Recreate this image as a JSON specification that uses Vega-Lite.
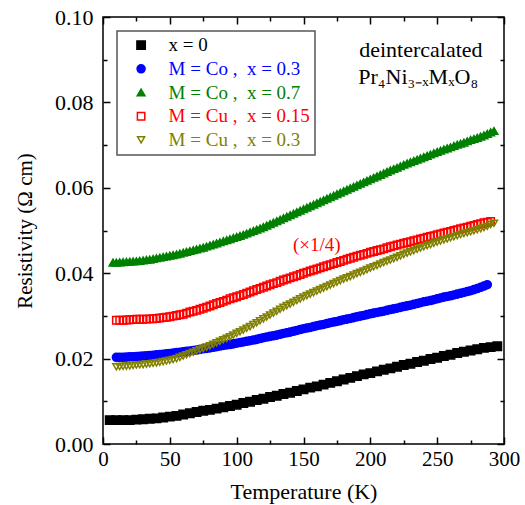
{
  "$schema": "https://vega.github.io/schema/vega-lite/v6.json",
  "width": 401,
  "height": 427,
  "autosize": {"type": "none"},
  "padding": {"left": 103, "top": 17, "right": 21, "bottom": 61},
  "background": "white",
  "config": {
    "font": "Liberation Serif",
    "view": {"stroke": "#000000", "strokeWidth": 1.5},
    "axis": {"grid": false, "domain": false, "tickColor": "#000000", "tickWidth": 1.5, "labelColor": "#000000", "labelFont": "Liberation Serif", "titleFont": "Liberation Serif", "titleFontWeight": "normal", "titleColor": "#000000", "labelFlush": false, "labelOverlap": false},
    "legend": {"strokeWidth": 1.5}
  },
  "datasets": {
    "pts": [
      {"s":"a","T":5,"R":0.0056},{"s":"a","T":10,"R":0.0056},{"s":"a","T":15,"R":0.0056},{"s":"a","T":20,"R":0.0056},{"s":"a","T":25,"R":0.0057},{"s":"a","T":30,"R":0.0058},{"s":"a","T":35,"R":0.0059},{"s":"a","T":40,"R":0.0060},{"s":"a","T":45,"R":0.0062},{"s":"a","T":50,"R":0.0064},{"s":"a","T":55,"R":0.0066},{"s":"a","T":60,"R":0.0069},{"s":"a","T":65,"R":0.0072},{"s":"a","T":70,"R":0.0075},{"s":"a","T":75,"R":0.0078},{"s":"a","T":80,"R":0.0080},{"s":"a","T":85,"R":0.0083},{"s":"a","T":90,"R":0.0086},{"s":"a","T":95,"R":0.0089},{"s":"a","T":100,"R":0.0092},{"s":"a","T":105,"R":0.0096},{"s":"a","T":110,"R":0.0099},{"s":"a","T":115,"R":0.0103},{"s":"a","T":120,"R":0.0106},{"s":"a","T":125,"R":0.0110},{"s":"a","T":130,"R":0.0113},{"s":"a","T":135,"R":0.0117},{"s":"a","T":140,"R":0.0120},{"s":"a","T":145,"R":0.0124},{"s":"a","T":150,"R":0.0128},{"s":"a","T":155,"R":0.0132},{"s":"a","T":160,"R":0.0135},{"s":"a","T":165,"R":0.0139},{"s":"a","T":170,"R":0.0143},{"s":"a","T":175,"R":0.0147},{"s":"a","T":180,"R":0.0151},{"s":"a","T":185,"R":0.0155},{"s":"a","T":190,"R":0.0159},{"s":"a","T":195,"R":0.0163},{"s":"a","T":200,"R":0.0166},{"s":"a","T":205,"R":0.0170},{"s":"a","T":210,"R":0.0174},{"s":"a","T":215,"R":0.0177},{"s":"a","T":220,"R":0.0181},{"s":"a","T":225,"R":0.0185},{"s":"a","T":230,"R":0.0188},{"s":"a","T":235,"R":0.0192},{"s":"a","T":240,"R":0.0195},{"s":"a","T":245,"R":0.0199},{"s":"a","T":250,"R":0.0202},{"s":"a","T":255,"R":0.0206},{"s":"a","T":260,"R":0.0209},{"s":"a","T":265,"R":0.0213},{"s":"a","T":270,"R":0.0216},{"s":"a","T":275,"R":0.0219},{"s":"a","T":280,"R":0.0222},{"s":"a","T":285,"R":0.0225},{"s":"a","T":290,"R":0.0227},{"s":"a","T":295,"R":0.0229},
      {"s":"b","T":10,"R":0.0203},{"s":"b","T":15,"R":0.0203},{"s":"b","T":20,"R":0.0204},{"s":"b","T":25,"R":0.0205},{"s":"b","T":30,"R":0.0206},{"s":"b","T":35,"R":0.0207},{"s":"b","T":40,"R":0.0209},{"s":"b","T":45,"R":0.0210},{"s":"b","T":50,"R":0.0212},{"s":"b","T":55,"R":0.0214},{"s":"b","T":60,"R":0.0216},{"s":"b","T":65,"R":0.0218},{"s":"b","T":70,"R":0.0220},{"s":"b","T":75,"R":0.0223},{"s":"b","T":80,"R":0.0225},{"s":"b","T":85,"R":0.0228},{"s":"b","T":90,"R":0.0231},{"s":"b","T":95,"R":0.0233},{"s":"b","T":100,"R":0.0236},{"s":"b","T":105,"R":0.0239},{"s":"b","T":110,"R":0.0242},{"s":"b","T":115,"R":0.0245},{"s":"b","T":120,"R":0.0249},{"s":"b","T":125,"R":0.0252},{"s":"b","T":130,"R":0.0255},{"s":"b","T":135,"R":0.0259},{"s":"b","T":140,"R":0.0262},{"s":"b","T":145,"R":0.0266},{"s":"b","T":150,"R":0.0270},{"s":"b","T":155,"R":0.0273},{"s":"b","T":160,"R":0.0277},{"s":"b","T":165,"R":0.0280},{"s":"b","T":170,"R":0.0284},{"s":"b","T":175,"R":0.0287},{"s":"b","T":180,"R":0.0291},{"s":"b","T":185,"R":0.0294},{"s":"b","T":190,"R":0.0298},{"s":"b","T":195,"R":0.0301},{"s":"b","T":200,"R":0.0305},{"s":"b","T":205,"R":0.0308},{"s":"b","T":210,"R":0.0311},{"s":"b","T":215,"R":0.0315},{"s":"b","T":220,"R":0.0318},{"s":"b","T":225,"R":0.0322},{"s":"b","T":230,"R":0.0325},{"s":"b","T":235,"R":0.0329},{"s":"b","T":240,"R":0.0333},{"s":"b","T":245,"R":0.0336},{"s":"b","T":250,"R":0.0340},{"s":"b","T":255,"R":0.0344},{"s":"b","T":260,"R":0.0347},{"s":"b","T":265,"R":0.0351},{"s":"b","T":270,"R":0.0355},{"s":"b","T":275,"R":0.0359},{"s":"b","T":280,"R":0.0364},{"s":"b","T":285,"R":0.0370},
      {"s":"b","T":12.5,"R":0.0203},{"s":"b","T":17.5,"R":0.02035},{"s":"b","T":22.5,"R":0.02045},{"s":"b","T":27.5,"R":0.02055},{"s":"b","T":32.5,"R":0.02065},{"s":"b","T":37.5,"R":0.0208},{"s":"b","T":42.5,"R":0.02095},{"s":"b","T":47.5,"R":0.0211},{"s":"b","T":52.5,"R":0.0213},{"s":"b","T":57.5,"R":0.0215},{"s":"b","T":62.5,"R":0.0217},{"s":"b","T":67.5,"R":0.0219},{"s":"b","T":72.5,"R":0.02215},{"s":"b","T":77.5,"R":0.0224},{"s":"b","T":82.5,"R":0.02265},{"s":"b","T":87.5,"R":0.02295},{"s":"b","T":92.5,"R":0.0232},{"s":"b","T":97.5,"R":0.02345},{"s":"b","T":102.5,"R":0.02375},{"s":"b","T":107.5,"R":0.02405},{"s":"b","T":112.5,"R":0.02435},{"s":"b","T":117.5,"R":0.0247},{"s":"b","T":122.5,"R":0.02505},{"s":"b","T":127.5,"R":0.02535},{"s":"b","T":132.5,"R":0.0257},{"s":"b","T":137.5,"R":0.02605},{"s":"b","T":142.5,"R":0.0264},{"s":"b","T":147.5,"R":0.0268},{"s":"b","T":152.5,"R":0.02715},{"s":"b","T":157.5,"R":0.0275},{"s":"b","T":162.5,"R":0.02785},{"s":"b","T":167.5,"R":0.0282},{"s":"b","T":172.5,"R":0.02855},{"s":"b","T":177.5,"R":0.0289},{"s":"b","T":182.5,"R":0.02925},{"s":"b","T":187.5,"R":0.0296},{"s":"b","T":192.5,"R":0.02995},{"s":"b","T":197.5,"R":0.0303},{"s":"b","T":202.5,"R":0.03065},{"s":"b","T":207.5,"R":0.03095},{"s":"b","T":212.5,"R":0.0313},{"s":"b","T":217.5,"R":0.03165},{"s":"b","T":222.5,"R":0.032},{"s":"b","T":227.5,"R":0.03235},{"s":"b","T":232.5,"R":0.0327},{"s":"b","T":237.5,"R":0.0331},{"s":"b","T":242.5,"R":0.03345},{"s":"b","T":247.5,"R":0.0338},{"s":"b","T":252.5,"R":0.0342},{"s":"b","T":257.5,"R":0.03455},{"s":"b","T":262.5,"R":0.0349},{"s":"b","T":267.5,"R":0.0353},{"s":"b","T":272.5,"R":0.0357},{"s":"b","T":277.5,"R":0.03615},{"s":"b","T":282.5,"R":0.0367},{"s":"b","T":287.5,"R":0.0373},
      {"s":"c","T":10,"R":0.0425},{"s":"c","T":15,"R":0.0426},{"s":"c","T":20,"R":0.0427},{"s":"c","T":25,"R":0.0428},{"s":"c","T":30,"R":0.0430},{"s":"c","T":35,"R":0.0432},{"s":"c","T":40,"R":0.0435},{"s":"c","T":45,"R":0.0438},{"s":"c","T":50,"R":0.0441},{"s":"c","T":55,"R":0.0444},{"s":"c","T":60,"R":0.0448},{"s":"c","T":65,"R":0.0452},{"s":"c","T":70,"R":0.0456},{"s":"c","T":75,"R":0.0460},{"s":"c","T":80,"R":0.0465},{"s":"c","T":85,"R":0.0470},{"s":"c","T":90,"R":0.0475},{"s":"c","T":95,"R":0.0480},{"s":"c","T":100,"R":0.0485},{"s":"c","T":105,"R":0.0490},{"s":"c","T":110,"R":0.0496},{"s":"c","T":115,"R":0.0502},{"s":"c","T":120,"R":0.0508},{"s":"c","T":125,"R":0.0515},{"s":"c","T":130,"R":0.0522},{"s":"c","T":135,"R":0.0529},{"s":"c","T":140,"R":0.0536},{"s":"c","T":145,"R":0.0543},{"s":"c","T":150,"R":0.0550},{"s":"c","T":155,"R":0.0557},{"s":"c","T":160,"R":0.0564},{"s":"c","T":165,"R":0.0571},{"s":"c","T":170,"R":0.0578},{"s":"c","T":175,"R":0.0585},{"s":"c","T":180,"R":0.0592},{"s":"c","T":185,"R":0.0599},{"s":"c","T":190,"R":0.0606},{"s":"c","T":195,"R":0.0613},{"s":"c","T":200,"R":0.0620},{"s":"c","T":205,"R":0.0627},{"s":"c","T":210,"R":0.0634},{"s":"c","T":215,"R":0.0641},{"s":"c","T":220,"R":0.0647},{"s":"c","T":225,"R":0.0654},{"s":"c","T":230,"R":0.0660},{"s":"c","T":235,"R":0.0666},{"s":"c","T":240,"R":0.0672},{"s":"c","T":245,"R":0.0678},{"s":"c","T":250,"R":0.0684},{"s":"c","T":255,"R":0.0690},{"s":"c","T":260,"R":0.0695},{"s":"c","T":265,"R":0.0701},{"s":"c","T":270,"R":0.0706},{"s":"c","T":275,"R":0.0712},{"s":"c","T":280,"R":0.0717},{"s":"c","T":285,"R":0.0723},{"s":"c","T":290,"R":0.0730},
      {"s":"c","T":7.5,"R":0.0425},{"s":"c","T":12.5,"R":0.04255},{"s":"c","T":17.5,"R":0.04265},{"s":"c","T":22.5,"R":0.04275},{"s":"c","T":27.5,"R":0.0429},{"s":"c","T":32.5,"R":0.0431},{"s":"c","T":37.5,"R":0.04335},{"s":"c","T":42.5,"R":0.04365},{"s":"c","T":47.5,"R":0.04395},{"s":"c","T":52.5,"R":0.04425},{"s":"c","T":57.5,"R":0.0446},{"s":"c","T":62.5,"R":0.045},{"s":"c","T":67.5,"R":0.0454},{"s":"c","T":72.5,"R":0.0458},{"s":"c","T":77.5,"R":0.04625},{"s":"c","T":82.5,"R":0.04675},{"s":"c","T":87.5,"R":0.04725},{"s":"c","T":92.5,"R":0.04775},{"s":"c","T":97.5,"R":0.04825},{"s":"c","T":102.5,"R":0.04875},{"s":"c","T":107.5,"R":0.0493},{"s":"c","T":112.5,"R":0.0499},{"s":"c","T":117.5,"R":0.0505},{"s":"c","T":122.5,"R":0.05115},{"s":"c","T":127.5,"R":0.05185},{"s":"c","T":132.5,"R":0.05255},{"s":"c","T":137.5,"R":0.05325},{"s":"c","T":142.5,"R":0.05395},{"s":"c","T":147.5,"R":0.05465},{"s":"c","T":152.5,"R":0.05535},{"s":"c","T":157.5,"R":0.05605},{"s":"c","T":162.5,"R":0.05675},{"s":"c","T":167.5,"R":0.05745},{"s":"c","T":172.5,"R":0.05815},{"s":"c","T":177.5,"R":0.05885},{"s":"c","T":182.5,"R":0.05955},{"s":"c","T":187.5,"R":0.06025},{"s":"c","T":192.5,"R":0.06095},{"s":"c","T":197.5,"R":0.06165},{"s":"c","T":202.5,"R":0.06235},{"s":"c","T":207.5,"R":0.06305},{"s":"c","T":212.5,"R":0.06375},{"s":"c","T":217.5,"R":0.0644},{"s":"c","T":222.5,"R":0.06505},{"s":"c","T":227.5,"R":0.0657},{"s":"c","T":232.5,"R":0.0663},{"s":"c","T":237.5,"R":0.0669},{"s":"c","T":242.5,"R":0.0675},{"s":"c","T":247.5,"R":0.0681},{"s":"c","T":252.5,"R":0.0687},{"s":"c","T":257.5,"R":0.06925},{"s":"c","T":262.5,"R":0.0698},{"s":"c","T":267.5,"R":0.07035},{"s":"c","T":272.5,"R":0.0709},{"s":"c","T":277.5,"R":0.07145},{"s":"c","T":282.5,"R":0.072},{"s":"c","T":287.5,"R":0.07265},{"s":"c","T":292.5,"R":0.0733},
      {"s":"d","T":10,"R":0.0290},{"s":"d","T":15,"R":0.0290},{"s":"d","T":20,"R":0.0291},{"s":"d","T":25,"R":0.0292},{"s":"d","T":30,"R":0.0292},{"s":"d","T":35,"R":0.0293},{"s":"d","T":40,"R":0.0294},{"s":"d","T":45,"R":0.0296},{"s":"d","T":50,"R":0.0298},{"s":"d","T":55,"R":0.0301},{"s":"d","T":60,"R":0.0304},{"s":"d","T":65,"R":0.0309},{"s":"d","T":70,"R":0.0313},{"s":"d","T":75,"R":0.0318},{"s":"d","T":80,"R":0.0323},{"s":"d","T":85,"R":0.0329},{"s":"d","T":90,"R":0.0334},{"s":"d","T":95,"R":0.0340},{"s":"d","T":100,"R":0.0345},{"s":"d","T":105,"R":0.0350},{"s":"d","T":110,"R":0.0356},{"s":"d","T":115,"R":0.0362},{"s":"d","T":120,"R":0.0367},{"s":"d","T":125,"R":0.0373},{"s":"d","T":130,"R":0.0378},{"s":"d","T":135,"R":0.0384},{"s":"d","T":140,"R":0.0389},{"s":"d","T":145,"R":0.0394},{"s":"d","T":150,"R":0.0400},{"s":"d","T":155,"R":0.0405},{"s":"d","T":160,"R":0.0410},{"s":"d","T":165,"R":0.0415},{"s":"d","T":170,"R":0.0420},{"s":"d","T":175,"R":0.0425},{"s":"d","T":180,"R":0.0430},{"s":"d","T":185,"R":0.0435},{"s":"d","T":190,"R":0.0440},{"s":"d","T":195,"R":0.0444},{"s":"d","T":200,"R":0.0449},{"s":"d","T":205,"R":0.0453},{"s":"d","T":210,"R":0.0457},{"s":"d","T":215,"R":0.0462},{"s":"d","T":220,"R":0.0466},{"s":"d","T":225,"R":0.0470},{"s":"d","T":230,"R":0.0474},{"s":"d","T":235,"R":0.0478},{"s":"d","T":240,"R":0.0482},{"s":"d","T":245,"R":0.0486},{"s":"d","T":250,"R":0.0490},{"s":"d","T":255,"R":0.0494},{"s":"d","T":260,"R":0.0498},{"s":"d","T":265,"R":0.0502},{"s":"d","T":270,"R":0.0506},{"s":"d","T":275,"R":0.0510},{"s":"d","T":280,"R":0.0514},{"s":"d","T":285,"R":0.0518},{"s":"d","T":290,"R":0.0521},
      {"s":"d","T":12.5,"R":0.0290},{"s":"d","T":17.5,"R":0.02905},{"s":"d","T":22.5,"R":0.02915},{"s":"d","T":27.5,"R":0.0292},{"s":"d","T":32.5,"R":0.02925},{"s":"d","T":37.5,"R":0.02935},{"s":"d","T":42.5,"R":0.0295},{"s":"d","T":47.5,"R":0.0297},{"s":"d","T":52.5,"R":0.02995},{"s":"d","T":57.5,"R":0.03025},{"s":"d","T":62.5,"R":0.03065},{"s":"d","T":67.5,"R":0.0311},{"s":"d","T":72.5,"R":0.03155},{"s":"d","T":77.5,"R":0.03205},{"s":"d","T":82.5,"R":0.0326},{"s":"d","T":87.5,"R":0.03315},{"s":"d","T":92.5,"R":0.0337},{"s":"d","T":97.5,"R":0.03425},{"s":"d","T":102.5,"R":0.03475},{"s":"d","T":107.5,"R":0.0353},{"s":"d","T":112.5,"R":0.0359},{"s":"d","T":117.5,"R":0.03645},{"s":"d","T":122.5,"R":0.037},{"s":"d","T":127.5,"R":0.03755},{"s":"d","T":132.5,"R":0.0381},{"s":"d","T":137.5,"R":0.03865},{"s":"d","T":142.5,"R":0.03915},{"s":"d","T":147.5,"R":0.0397},{"s":"d","T":152.5,"R":0.04025},{"s":"d","T":157.5,"R":0.04075},{"s":"d","T":162.5,"R":0.04125},{"s":"d","T":167.5,"R":0.04175},{"s":"d","T":172.5,"R":0.04225},{"s":"d","T":177.5,"R":0.04275},{"s":"d","T":182.5,"R":0.04325},{"s":"d","T":187.5,"R":0.04375},{"s":"d","T":192.5,"R":0.0442},{"s":"d","T":197.5,"R":0.04465},{"s":"d","T":202.5,"R":0.0451},{"s":"d","T":207.5,"R":0.0455},{"s":"d","T":212.5,"R":0.04595},{"s":"d","T":217.5,"R":0.0464},{"s":"d","T":222.5,"R":0.0468},{"s":"d","T":227.5,"R":0.0472},{"s":"d","T":232.5,"R":0.0476},{"s":"d","T":237.5,"R":0.048},{"s":"d","T":242.5,"R":0.0484},{"s":"d","T":247.5,"R":0.0488},{"s":"d","T":252.5,"R":0.0492},{"s":"d","T":257.5,"R":0.0496},{"s":"d","T":262.5,"R":0.05},{"s":"d","T":267.5,"R":0.0504},{"s":"d","T":272.5,"R":0.0508},{"s":"d","T":277.5,"R":0.0512},{"s":"d","T":282.5,"R":0.0516},{"s":"d","T":287.5,"R":0.05195},
      {"s":"e","T":10,"R":0.0181},{"s":"e","T":15,"R":0.0182},{"s":"e","T":20,"R":0.0183},{"s":"e","T":25,"R":0.0185},{"s":"e","T":30,"R":0.0186},{"s":"e","T":35,"R":0.0188},{"s":"e","T":40,"R":0.0190},{"s":"e","T":45,"R":0.0193},{"s":"e","T":50,"R":0.0196},{"s":"e","T":55,"R":0.0200},{"s":"e","T":60,"R":0.0206},{"s":"e","T":65,"R":0.0212},{"s":"e","T":70,"R":0.0218},{"s":"e","T":75,"R":0.0224},{"s":"e","T":80,"R":0.0230},{"s":"e","T":85,"R":0.0237},{"s":"e","T":90,"R":0.0244},{"s":"e","T":95,"R":0.0251},{"s":"e","T":100,"R":0.0259},{"s":"e","T":105,"R":0.0267},{"s":"e","T":110,"R":0.0275},{"s":"e","T":115,"R":0.0284},{"s":"e","T":120,"R":0.0293},{"s":"e","T":125,"R":0.0302},{"s":"e","T":130,"R":0.0311},{"s":"e","T":135,"R":0.0320},{"s":"e","T":140,"R":0.0328},{"s":"e","T":145,"R":0.0336},{"s":"e","T":150,"R":0.0344},{"s":"e","T":155,"R":0.0351},{"s":"e","T":160,"R":0.0358},{"s":"e","T":165,"R":0.0365},{"s":"e","T":170,"R":0.0372},{"s":"e","T":175,"R":0.0379},{"s":"e","T":180,"R":0.0386},{"s":"e","T":185,"R":0.0392},{"s":"e","T":190,"R":0.0399},{"s":"e","T":195,"R":0.0405},{"s":"e","T":200,"R":0.0412},{"s":"e","T":205,"R":0.0418},{"s":"e","T":210,"R":0.0425},{"s":"e","T":215,"R":0.0431},{"s":"e","T":220,"R":0.0437},{"s":"e","T":225,"R":0.0444},{"s":"e","T":230,"R":0.0450},{"s":"e","T":235,"R":0.0456},{"s":"e","T":240,"R":0.0462},{"s":"e","T":245,"R":0.0467},{"s":"e","T":250,"R":0.0473},{"s":"e","T":255,"R":0.0478},{"s":"e","T":260,"R":0.0483},{"s":"e","T":265,"R":0.0488},{"s":"e","T":270,"R":0.0493},{"s":"e","T":275,"R":0.0497},{"s":"e","T":280,"R":0.0502},{"s":"e","T":285,"R":0.0507},{"s":"e","T":290,"R":0.0514},
      {"s":"e","T":12.5,"R":0.01815},{"s":"e","T":17.5,"R":0.01825},{"s":"e","T":22.5,"R":0.0184},{"s":"e","T":27.5,"R":0.01855},{"s":"e","T":32.5,"R":0.0187},{"s":"e","T":37.5,"R":0.0189},{"s":"e","T":42.5,"R":0.01915},{"s":"e","T":47.5,"R":0.01945},{"s":"e","T":52.5,"R":0.0198},{"s":"e","T":57.5,"R":0.0203},{"s":"e","T":62.5,"R":0.0209},{"s":"e","T":67.5,"R":0.0215},{"s":"e","T":72.5,"R":0.0221},{"s":"e","T":77.5,"R":0.0227},{"s":"e","T":82.5,"R":0.02335},{"s":"e","T":87.5,"R":0.02405},{"s":"e","T":92.5,"R":0.02475},{"s":"e","T":97.5,"R":0.0255},{"s":"e","T":102.5,"R":0.0263},{"s":"e","T":107.5,"R":0.0271},{"s":"e","T":112.5,"R":0.02795},{"s":"e","T":117.5,"R":0.02885},{"s":"e","T":122.5,"R":0.02975},{"s":"e","T":127.5,"R":0.03065},{"s":"e","T":132.5,"R":0.03155},{"s":"e","T":137.5,"R":0.0324},{"s":"e","T":142.5,"R":0.0332},{"s":"e","T":147.5,"R":0.034},{"s":"e","T":152.5,"R":0.03475},{"s":"e","T":157.5,"R":0.03545},{"s":"e","T":162.5,"R":0.03615},{"s":"e","T":167.5,"R":0.03685},{"s":"e","T":172.5,"R":0.03755},{"s":"e","T":177.5,"R":0.03825},{"s":"e","T":182.5,"R":0.0389},{"s":"e","T":187.5,"R":0.03955},{"s":"e","T":192.5,"R":0.0402},{"s":"e","T":197.5,"R":0.04085},{"s":"e","T":202.5,"R":0.0415},{"s":"e","T":207.5,"R":0.04215},{"s":"e","T":212.5,"R":0.0428},{"s":"e","T":217.5,"R":0.0434},{"s":"e","T":222.5,"R":0.04405},{"s":"e","T":227.5,"R":0.0447},{"s":"e","T":232.5,"R":0.0453},{"s":"e","T":237.5,"R":0.0459},{"s":"e","T":242.5,"R":0.04645},{"s":"e","T":247.5,"R":0.047},{"s":"e","T":252.5,"R":0.04755},{"s":"e","T":257.5,"R":0.04805},{"s":"e","T":262.5,"R":0.04855},{"s":"e","T":267.5,"R":0.04905},{"s":"e","T":272.5,"R":0.0495},{"s":"e","T":277.5,"R":0.04995},{"s":"e","T":282.5,"R":0.05045},{"s":"e","T":287.5,"R":0.051},{"s":"e","T":292.5,"R":0.0517}
    ]
  },
  "layer": [
    {
      "data": {"name": "pts"},
      "mark": {"type": "point", "strokeWidth": 1.5, "opacity": 1},
      "encoding": {
        "x": {"field": "T", "type": "quantitative", "scale": {"domain": [0, 300], "nice": false, "zero": false},
          "axis": {"orient": "bottom", "values": [0,25,50,75,100,125,150,175,200,225,250,275,300], "labelExpr": "datum.value % 50 === 0 ? datum.label : ''", "format": "d", "tickSize": {"condition": {"test": "datum.value % 50 !== 0", "value": -4}, "value": -7}, "labelFontSize": 21, "labelPadding": 11, "title": "Temperature (K)", "titleFontSize": 22, "titlePadding": 9}},
        "y": {"field": "R", "type": "quantitative", "scale": {"domain": [0, 0.1], "nice": false, "zero": false},
          "axis": {"orient": "left", "values": [0,0.01,0.02,0.03,0.04,0.05,0.06,0.07,0.08,0.09,0.1], "labelExpr": "round(datum.value*100) % 2 === 0 ? format(datum.value, '.2f') : ''", "tickSize": {"condition": {"test": "round(datum.value*100) % 2 !== 0", "value": -4}, "value": -7}, "labelFontSize": 22, "labelPadding": 17, "title": "Resistivity (Ω cm)", "titleFontSize": 21, "titlePadding": 19}},
        "stroke": {"field": "s", "type": "nominal",
          "scale": {"domain": ["a","b","c","d","e"], "range": ["#000000","#0000ff","#008000","#ff0000","#808000"]},
          "legend": {"orient": "none", "legendX": 14, "legendY": 14, "title": null, "padding": 4.6, "strokeColor": "#555555", "fillColor": "white", "labelFontSize": 19, "labelFont": "Liberation Serif", "rowPadding": 3.7, "symbolOffset": 10, "labelOffset": 18, "symbolStrokeWidth": 1.5,
            "labelColor": {"expr": "scale('stroke', datum.value)"},
            "labelExpr": "datum.value == 'a' ? 'x = 0' : datum.value == 'b' ? 'M = Co ,\u00a0 x = 0.3' : datum.value == 'c' ? 'M = Co ,\u00a0 x = 0.7' : datum.value == 'd' ? 'M = Cu ,\u00a0 x = 0.15' : 'M = Cu ,\u00a0 x = 0.3'"}},
        "fill": {"field": "s", "type": "nominal",
          "scale": {"domain": ["a","b","c","d","e"], "range": ["#000000","#0000ff","#008000","transparent","transparent"]}},
        "shape": {"field": "s", "type": "nominal",
          "scale": {"domain": ["a","b","c","d","e"], "range": ["square","circle","triangle-up","square","triangle-down"]}},
        "size": {"field": "s", "type": "nominal",
          "scale": {"domain": ["a","b","c","d","e"], "range": [70, 50, 70, 36, 55]}}
      }
    },
    {
      "data": {"name": "pts"},
      "mark": {"type": "point", "opacity": 0},
      "encoding": {
        "x": {"field": "T", "type": "quantitative",
          "axis": {"orient": "top", "values": [0,25,50,75,100,125,150,175,200,225,250,275,300], "labels": false, "tickSize": {"condition": {"test": "datum.value % 50 !== 0", "value": -4}, "value": -7}, "title": null}},
        "y": {"field": "R", "type": "quantitative",
          "axis": {"orient": "right", "values": [0,0.01,0.02,0.03,0.04,0.05,0.06,0.07,0.08,0.09,0.1], "labels": false, "tickSize": {"condition": {"test": "round(datum.value*100) % 2 !== 0", "value": -4}, "value": -7}, "title": null}}
      }
    },
    {
      "data": {"values": [{"label": "deintercalated"}]},
      "mark": {"type": "text", "align": "left", "baseline": "alphabetic", "fontSize": 22, "font": "Liberation Serif", "color": "#000000"},
      "encoding": {"x": {"datum": 191.7, "type": "quantitative", "axis": null}, "y": {"datum": 0.0907, "type": "quantitative", "axis": null}, "text": {"field": "label"}}
    },
    {
      "data": {"values": [{"label": "Pr₄Ni₃₋ₓMₓO₈"}]},
      "mark": {"type": "text", "align": "left", "baseline": "alphabetic", "fontSize": 22, "font": "Liberation Serif", "color": "#000000"},
      "encoding": {"x": {"datum": 191.0, "type": "quantitative", "axis": null}, "y": {"datum": 0.0844, "type": "quantitative", "axis": null}, "text": {"field": "label"}}
    },
    {
      "data": {"values": [{"label": "(×1/4)"}]},
      "mark": {"type": "text", "align": "center", "baseline": "middle", "fontSize": 19, "font": "Liberation Serif", "color": "#ff0000"},
      "encoding": {"x": {"datum": 160, "type": "quantitative", "axis": null}, "y": {"datum": 0.0465, "type": "quantitative", "axis": null}, "text": {"field": "label"}}
    }
  ],
  "resolve": {"axis": {"x": "independent", "y": "independent"}}
}
